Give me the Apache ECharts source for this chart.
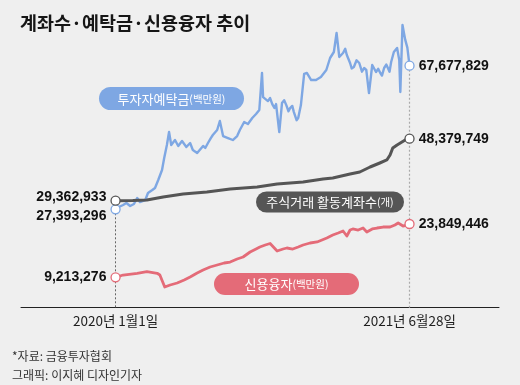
<!DOCTYPE html>
<html>
<head>
<meta charset="utf-8">
<script src="https://cdn.jsdelivr.net/npm/echarts@6/dist/echarts.min.js"></script>
<style>
html,body{margin:0;padding:0;background:#efefef;}
#chart{width:520px;height:385px;}
</style>
</head>
<body>
<div id="chart"></div>
<script>
// ---- DATA ----
const titleText = '계좌수·예탁금·신용융자 추이';
const seriesNames = ['투자자예탁금', '주식거래 활동계좌수', '신용융자'];
const seriesUnits = ['(백만원)', '(개)', '(백만원)'];
const xTickLabels = ['2020년 1월1일', '2021년 6월28일'];
const sourceNotes = ['*자료: 금융투자협회', '그래픽: 이지혜 디자인기자'];

const depositDates = [
  '2020-01-01','2020-01-07','2020-01-15','2020-01-21','2020-01-28','2020-02-04','2020-02-10','2020-02-15','2020-02-25','2020-03-01',
  '2020-03-09','2020-03-14','2020-03-20','2020-03-27','2020-03-31','2020-04-05','2020-04-09','2020-04-13','2020-04-20','2020-04-26',
  '2020-05-03','2020-05-11','2020-05-18','2020-05-23','2020-05-31','2020-06-11','2020-06-15','2020-06-20','2020-06-25','2020-06-29',
  '2020-07-07','2020-07-12','2020-07-18','2020-07-27','2020-08-05','2020-08-13','2020-08-18','2020-08-26','2020-09-02','2020-09-10',
  '2020-09-17','2020-09-23','2020-09-28','2020-09-30','2020-10-09','2020-10-13','2020-10-17','2020-10-21','2020-10-24','2020-10-30',
  '2020-11-04','2020-11-08','2020-11-12','2020-11-16','2020-11-19','2020-11-23','2020-11-26','2020-12-01','2020-12-04','2020-12-09',
  '2020-12-15','2020-12-20','2020-12-28','2021-01-06','2021-01-15','2021-01-25','2021-02-01','2021-02-08','2021-02-13','2021-02-18',
  '2021-02-25','2021-03-01','2021-03-04','2021-03-10','2021-03-13','2021-03-17','2021-03-22','2021-03-27','2021-04-01','2021-04-05',
  '2021-04-09','2021-04-14','2021-04-20','2021-04-27','2021-05-01','2021-05-05','2021-05-08','2021-05-12','2021-05-16','2021-05-19',
  '2021-05-22','2021-05-25','2021-05-30','2021-06-05','2021-06-09','2021-06-11','2021-06-15','2021-06-20','2021-06-24','2021-06-28'
];
const depositValues = [
  27393296,28040000,28600000,29160000,28320000,28880000,30560000,29440000,30000000,31960000,
  32800000,33370000,35610000,38420000,41780000,45430000,49080000,45430000,46830000,45150000,
  46550000,44870000,45990000,44030000,43180000,45150000,44600000,45990000,47300000,48230000,
  49640000,52160000,47950000,47390000,46830000,47950000,49640000,51880000,51320000,53000000,
  54120000,55240000,65610000,58870000,57750000,58600000,56910000,55800000,56910000,49050000,
  57190000,58000000,56620000,54900000,55780000,56400000,54660000,52400000,52990000,56620000,
  65400000,65630000,63660000,63660000,64510000,66470000,69840000,71520000,76850000,70120000,
  71240000,72400000,70680000,68430000,66900000,67310000,69200000,68430000,66000000,67030000,
  66470000,60000000,67870000,65900000,66800000,65630000,64900000,67030000,68000000,67030000,
  66000000,68710000,71520000,72640000,69270000,60280000,79090000,74990000,72750000,67677829
];

const accountDates = [
  '2020-01-01','2020-02-02','2020-02-28','2020-03-29','2020-05-05','2020-06-18','2020-07-31','2020-09-19','2020-10-26','2020-12-13',
  '2021-01-19','2021-02-06','2021-03-10','2021-03-28','2021-04-16','2021-05-04','2021-05-17','2021-05-23','2021-05-28','2021-06-05',
  '2021-06-14','2021-06-20','2021-06-28'
];
const accountValues = [
  29362933,29400000,29580000,30500000,31420000,32030000,32950000,33570000,34490000,35100000,
  36020000,36330000,37550000,38170000,39700000,40930000,41850000,43380000,45530000,46450000,
  47370000,47980000,48379749
];

const creditDates = [
  '2020-01-01','2020-01-15','2020-02-10','2020-02-28','2020-03-18','2020-03-23','2020-04-01','2020-04-11','2020-04-24','2020-05-07',
  '2020-05-18','2020-05-31','2020-06-11','2020-06-24','2020-07-07','2020-07-20','2020-07-31','2020-08-13','2020-08-24','2020-09-06',
  '2020-09-17','2020-09-24','2020-10-04','2020-10-13','2020-10-26','2020-11-06','2020-11-13','2020-11-24','2020-12-04','2020-12-13',
  '2020-12-26','2021-01-08','2021-01-17','2021-01-26','2021-02-06','2021-02-16','2021-02-25','2021-03-04','2021-03-10','2021-03-15',
  '2021-03-25','2021-04-03','2021-04-10','2021-04-20','2021-04-29','2021-05-10','2021-05-23','2021-06-01','2021-06-07','2021-06-16',
  '2021-06-22','2021-06-28'
];
const creditValues = [
  9213276,9840000,10310000,10750000,10310000,9840000,6550000,7100000,7650000,8470000,
  9300000,10390000,11220000,12040000,12590000,13140000,13410000,14240000,14790000,16160000,
  16980000,17530000,18080000,18490000,16430000,16980000,17260000,16980000,17530000,18080000,
  18630000,18910000,19460000,20000000,20830000,21380000,21930000,20550000,22200000,22480000,
  22200000,22750000,21650000,22480000,22750000,23020000,23020000,23570000,24120000,23300000,
  23440000,23849446
];

// ---- helpers ----
function ts(s){const p=s.split('-');return new Date(+p[0],+p[1]-1,+p[2]).getTime();}
function fmt(v){return String(Math.round(v)).replace(/\B(?=(\d{3})+(?!\d))/g, ',');}
const DAY = 864e5;
const tStart = ts(depositDates[0]);
const tEnd = ts(depositDates[depositDates.length-1]);

const colors = ['#7ea7e3', '#555555', '#e46b78'];
// each series drawn on its own hidden scale
const yRanges = [[-295000, 83302000], [-3548000, 87855000], [783000, 82613000]];

const seriesDates = [depositDates, accountDates, creditDates];
const seriesValues = [depositValues, accountValues, creditValues];
const startOffsets = [[0, 6.5], [0, -3.5], [0, 0]];
const lineWidths = [2.4, 3, 2.8];

const numFont = {fontFamily:'Liberation Sans, Arial, sans-serif', fontWeight:'bold', fontSize:14, color:'#111'};
const axisFont = {fontFamily:'Noto Sans CJK KR', fontSize:13.5, color:'#1e1e1e'};

const series = [];
[0,1,2].forEach(k=>{
  const d = seriesDates[k], v = seriesValues[k];
  const s = {
    type:'line', name:seriesNames[k], yAxisIndex:k,
    data: d.map((x,i)=>[ts(x), v[i]]),
    showSymbol:false, clip:false, silent:true,
    lineStyle:{color:colors[k], width: lineWidths[k], join:'round'},
    z: k===1 ? 4 : 3
  };
  if (k === 0) {
    s.markLine = {
      silent:true, symbol:['none','none'],
      label:Object.assign({show:true, position:'end', distance:6}, axisFont),
      data:[
        [{coord:[ts(d[0]), v[0]], lineStyle:{color:'#666', type:[2,2], width:1},
          label:{formatter:xTickLabels[0]}},
         {coord:[ts(d[0]), yRanges[0][0]]}],
        [{coord:[ts(d[d.length-1]), v[v.length-1]], lineStyle:{color:'#aaa', type:[2,2], width:1.2},
          label:{formatter:xTickLabels[1]}},
         {coord:[ts(d[d.length-1]), yRanges[0][0]]}]
      ]
    };
  }
  series.push(s);
  series.push({
    type:'scatter', yAxisIndex:k, silent:true, z:6,
    symbol:'circle', symbolSize:9,
    itemStyle:{color:'#fff', borderColor:colors[k], borderWidth:1.3, opacity:1},
    label:Object.assign({show:true, distance:4, formatter:p=>fmt(p.value[1])}, numFont),
    data:[
      {value:[ts(d[0]), v[0]], label:{position:'left', offset:startOffsets[k]}},
      {value:[ts(d[d.length-1]), v[v.length-1]], label:{position:'right'}}
    ]
  });
});

function pill(x, y, w, h, color, name, unit){
  return {
    type:'group', children:[
      {type:'rect', shape:{x:x, y:y, width:w, height:h, r:h/2}, style:{fill:color}},
      {type:'text', x:x+w/2, y:y+h/2+0.5, style:{
        text:'{a|'+name+'}{b|'+unit+'}',
        fill:'#fff', align:'center', verticalAlign:'middle',
        rich:{
          a:{fontSize:13, fontFamily:'Noto Sans CJK KR', fill:'#fff'},
          b:{fontSize:10.5, fontFamily:'Noto Sans CJK KR', fill:'#fff'}
        }
      }}
    ]
  };
}

const option = {
  backgroundColor:'#efefef',
  animation:false,
  title:{
    text:titleText, left:15, top:9,
    textStyle:{fontFamily:'Noto Sans CJK KR', fontWeight:'bold', fontSize:18.5, color:'#161616'}
  },
  grid:{left:21, right:21, top:10, bottom:77, containLabel:false},
  xAxis:{
    type:'time',
    min: tStart - 175*DAY,
    max: tEnd + 165.6*DAY,
    axisLine:{show:true, lineStyle:{color:'#222', width:1}},
    axisTick:{show:false},
    splitLine:{show:false},
    axisLabel:{show:false}
  },
  yAxis: yRanges.map(r=>({type:'value', show:false, min:r[0], max:r[1], splitLine:{show:false}})),
  series: series,
  graphic:[
    pill(99, 87, 145, 23, '#7ea7e3', seriesNames[0], seriesUnits[0]),
    pill(256, 191.5, 148, 21, '#555555', seriesNames[1], seriesUnits[1]),
    pill(214, 273, 145, 22, '#e46b78', seriesNames[2], seriesUnits[2]),
    {type:'text', x:12, y:356, style:{text:sourceNotes[0], fill:'#333', font:'12px "Noto Sans CJK KR"', verticalAlign:'middle'}},
    {type:'text', x:12, y:375, style:{text:sourceNotes[1], fill:'#333', font:'12px "Noto Sans CJK KR"', verticalAlign:'middle'}}
  ]
};

const chart = echarts.init(document.getElementById('chart'), null, {renderer:'canvas'});
chart.setOption(option);
</script>
</body>
</html>
